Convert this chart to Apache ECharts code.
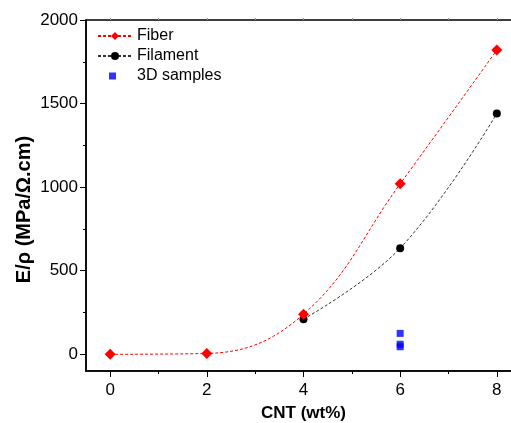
<!DOCTYPE html>
<html>
<head>
<meta charset="utf-8">
<script src="https://cdn.jsdelivr.net/npm/echarts@6/dist/echarts.min.js"></script>
<style>
  html, body { margin: 0; padding: 0; background: #fff; }
  #chart { width: 511px; height: 423px; }
</style>
</head>
<body>
<div id="chart"></div>
<script>
// values
const fiberCnt = [0, 2, 4, 6, 8];
const fiberVal = [0, 5, 240, 1020, 1820];
const filamentCnt = [4, 6, 8];
const filamentVal = [210, 635, 1440];
const samplesCnt = [6, 6, 6];
const samplesVal = [125, 60, 45];

const xMajor = [0, 2, 4, 6, 8];
const xMinor = [1, 3, 5, 7];
const yMajor = [0, 500, 1000, 1500, 2000];
const yMinor = [250, 750, 1250, 1750];

const font = "'Liberation Sans', Arial, sans-serif";

const pairs = (xs, ys) => xs.map((x, i) => [x, ys[i]]);

// small square in the 34x10 legend slot (zero-length segments fix the bounds)
const squareIcon = "path://M0,0L0,0M34,10L34,10M11,1.5L18,1.5L18,8.5L11,8.5Z";

let chart;

const initChart = () => {
  chart = echarts.init(document.getElementById("chart"));

  const xBase = {
    type: "value", min: -0.5, max: 8.5,
    splitLine: { show: false }
  };
  const yBase = {
    type: "value", min: -100, max: 2000,
    splitLine: { show: false }
  };

  const option = {
    animation: false,
    grid: {
      left: 86, top: 20, right: -10, bottom: 52,
      outerBoundsMode: "none", containLabel: false,
      show: true, borderColor: "#000", borderWidth: 1.5
    },
    legend: {
      orient: "vertical", left: 92, top: 23,
      itemWidth: 34, itemHeight: 10, itemGap: 4,
      textStyle: { fontFamily: font, fontSize: 16, color: "#000" },
      data: ["Fiber", "Filament", { name: "3D samples", icon: squareIcon }]
    },
    xAxis: [
      Object.assign({}, xBase, {
        position: "bottom",
        name: "CNT (wt%)", nameLocation: "middle", nameGap: 34,
        nameTextStyle: { fontFamily: font, fontSize: 17, fontWeight: "bold", color: "#000" },
        axisLine: { onZero: false, lineStyle: { color: "#000", width: 1.5 } },
        axisTick: { customValues: xMajor, length: 6, lineStyle: { color: "#000" } },
        axisLabel: { customValues: xMajor, fontFamily: font, fontSize: 17, color: "#000", margin: 11 }
      }),
      Object.assign({}, xBase, {
        position: "bottom",
        axisLine: { show: false, onZero: false },
        axisTick: { customValues: xMinor, length: 3, lineStyle: { color: "#000" } },
        axisLabel: { show: false }
      }),
      Object.assign({}, xBase, {
        position: "top",
        axisLine: { show: false, onZero: false },
        axisTick: { customValues: xMajor.concat(xMinor), length: 2, lineStyle: { color: "#999" } },
        axisLabel: { show: false }
      })
    ],
    yAxis: [
      Object.assign({}, yBase, {
        position: "left",
        name: "E/ρ (MPa/Ω.cm)", nameLocation: "middle", nameGap: 52,
        nameMoveOverlap: false,
        nameTextStyle: {
          fontFamily: font, fontSize: 20, fontWeight: "bold", color: "#000",
          padding: [0, 28, 0, 0]
        },
        axisLine: { show: true, onZero: false, lineStyle: { color: "#000", width: 1.5 } },
        axisTick: { show: true, customValues: yMajor, length: 6, lineStyle: { color: "#000" } },
        axisLabel: {
          customValues: yMajor, fontFamily: font, fontSize: 17, color: "#000", margin: 8,
          formatter: (v) => String(v)
        }
      }),
      Object.assign({}, yBase, {
        position: "left",
        axisLine: { show: false, onZero: false },
        axisTick: { show: true, customValues: yMinor, length: 3, lineStyle: { color: "#000" } },
        axisLabel: { show: false }
      })
    ],
    series: [
      {
        name: "Fiber", type: "line", smooth: 0.4,
        data: pairs(fiberCnt, fiberVal),
        symbol: "diamond", symbolSize: 11,
        itemStyle: { color: "#ff0000" },
        lineStyle: { color: "#ff0000", width: 1, type: [3, 2] },
        z: 3
      },
      {
        name: "Filament", type: "line", smooth: 0.4,
        data: pairs(filamentCnt, filamentVal),
        symbol: "circle", symbolSize: 8,
        itemStyle: { color: "#000" },
        lineStyle: { color: "#333", width: 1, type: [3, 2] },
        z: 2
      },
      {
        name: "3D samples", type: "scatter",
        data: pairs(samplesCnt, samplesVal),
        symbol: "rect", symbolSize: 7,
        itemStyle: { color: "#0000ff" }
      }
    ]
  };

  chart.setOption(option);
};

document.addEventListener('DOMContentLoaded', function () {
  initChart();
});

window.addEventListener('resize', function () {
  chart.resize();
});
</script>
</body>
</html>
